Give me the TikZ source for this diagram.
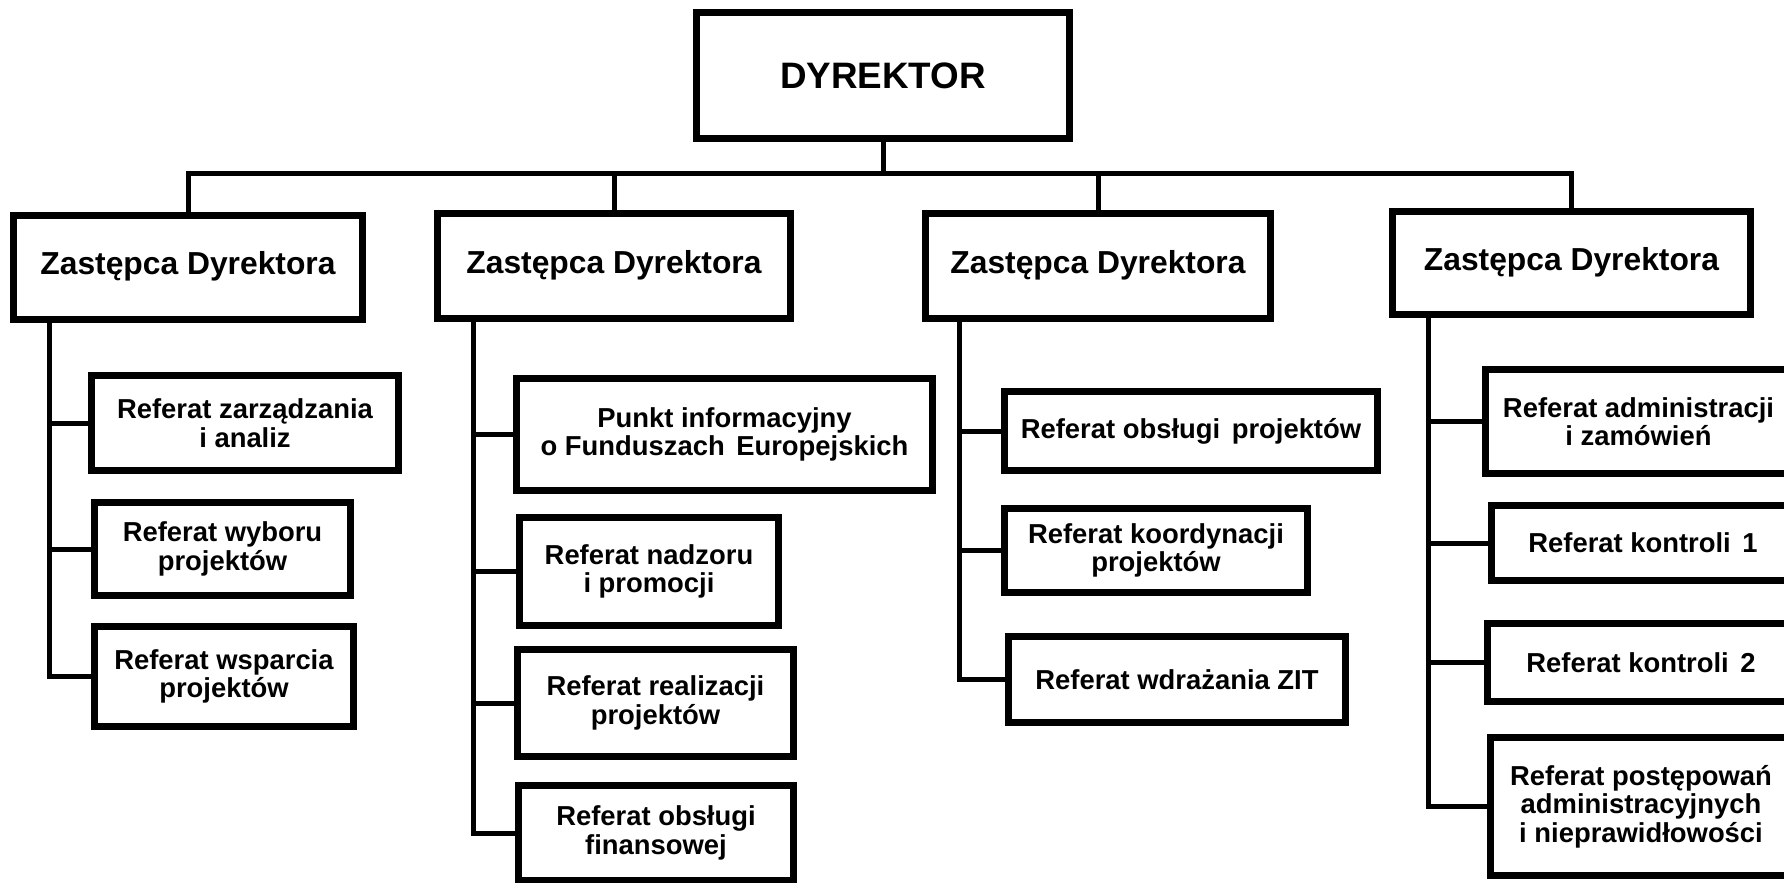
\documentclass[tikz,border=0pt]{standalone}
\usepackage{fontspec}
\setmainfont{Liberation Sans}
\newcommand\dsp{\hskip0.42em\relax}
\begin{document}
\begin{tikzpicture}[x=0.5pt,y=-0.5pt,
  box/.style={draw=black, line width=3.5pt, inner sep=0pt, align=center,
    font=\bfseries\fontsize{13.7}{14.25}\selectfont},
  zbox/.style={box, font=\bfseries\fontsize{15.9}{17}\selectfont,
    text height=0.716em, text depth=0pt},
  dbox/.style={box, font=\bfseries\fontsize{18.4}{20}\selectfont},
  conn/.style={draw=black, line width=2.5pt, line join=miter}]
\useasboundingbox (0,0) rectangle (1784,883);
\clip (0,0) rectangle (1784,883);
\fill[white] (0,0) rectangle (1784,883);

% top level
\node[dbox, minimum width=186.5pt, minimum height=63pt] (D) at (883,75.5) {DYREKTOR};

% deputies
\node[zbox, minimum width=174.5pt, minimum height=52pt] (Z1) at (188,267.5) {Zastępca Dyrektora};
\node[zbox, minimum width=176.5pt, minimum height=52.5pt] (Z2) at (614,266) {Zastępca Dyrektora};
\node[zbox, minimum width=172.5pt, minimum height=52.5pt] (Z3) at (1098,266) {Zastępca Dyrektora};
\node[zbox, minimum width=179pt, minimum height=51.5pt] (Z4) at (1571.5,263) {Zastępca Dyrektora};

% column 1
\node[box, minimum width=153.5pt, minimum height=47.5pt] (a1) at (245,423) {Referat zarządzania\\i analiz};
\node[box, minimum width=128pt, minimum height=46.5pt] (a2) at (222.5,549) {Referat wyboru\\projektów};
\node[box, minimum width=129.5pt, minimum height=50pt] (a3) at (224,676.5) {Referat wsparcia\\projektów};

% column 2
\node[box, minimum width=208pt, minimum height=56pt] (b1) at (724.5,434.5) {Punkt informacyjny\\o Funduszach\dsp Europejskich};
\node[box, minimum width=129.5pt, minimum height=54pt] (b2) at (649,571.5) {Referat nadzoru\\i promocji};
\node[box, minimum width=138pt, minimum height=53.5pt] (b3) at (655.5,703) {Referat realizacji\\projektów};
\node[box, minimum width=137.5pt, minimum height=47.5pt] (b4) at (656,833) {Referat obsługi\\finansowej};

% column 3
\node[box, minimum width=186.5pt, minimum height=39.5pt] (c1) at (1191,431) {Referat obsługi\dsp projektów};
\node[box, minimum width=151.5pt, minimum height=42pt] (c2) at (1156,550.5) {Referat koordynacji\\projektów};
\node[box, minimum width=168.5pt, minimum height=43pt] (c3) at (1177,679.5) {Referat wdrażania ZIT};

% column 4
\node[box, minimum width=153pt, minimum height=52pt] (d1) at (1638.5,421.5) {Referat administracji\\i zamówień};
\node[box, minimum width=151.5pt, minimum height=37.5pt] (d2) at (1643,543) {Referat kontroli\dsp 1};
\node[box, minimum width=153.5pt, minimum height=39pt] (d3) at (1641,662.5) {Referat kontroli\dsp 2};
\node[box, minimum width=150.5pt, minimum height=69pt] (d4) at (1641,806.5) {Referat postępowań\\administracyjnych\\i nieprawidłowości};

% top bus
\coordinate (bus) at (883,174);
\draw[conn] (D.south) -- (D.south |- bus);
\draw[conn] (Z1.north) -- (Z1.north |- bus) -- (Z4.north |- bus) -- (Z4.north);
\draw[conn] (Z2.north) -- (Z2.north |- bus);
\draw[conn] (Z3.north) -- (Z3.north |- bus);

% trunks
\coordinate (t1) at (49,0);
\coordinate (t2) at (473,0);
\coordinate (t3) at (959,0);
\coordinate (t4) at (1428,0);

\draw[conn] (t1 |- Z1.south) -- (t1 |- a3.west) -- (a3.west);
\draw[conn] (t1 |- a1.west) -- (a1.west);
\draw[conn] (t1 |- a2.west) -- (a2.west);

\draw[conn] (t2 |- Z2.south) -- (t2 |- b4.west) -- (b4.west);
\draw[conn] (t2 |- b1.west) -- (b1.west);
\draw[conn] (t2 |- b2.west) -- (b2.west);
\draw[conn] (t2 |- b3.west) -- (b3.west);

\draw[conn] (t3 |- Z3.south) -- (t3 |- c3.west) -- (c3.west);
\draw[conn] (t3 |- c1.west) -- (c1.west);
\draw[conn] (t3 |- c2.west) -- (c2.west);

\draw[conn] (t4 |- Z4.south) -- (t4 |- d4.west) -- (d4.west);
\draw[conn] (t4 |- d1.west) -- (d1.west);
\draw[conn] (t4 |- d2.west) -- (d2.west);
\draw[conn] (t4 |- d3.west) -- (d3.west);
\end{tikzpicture}
\end{document}
